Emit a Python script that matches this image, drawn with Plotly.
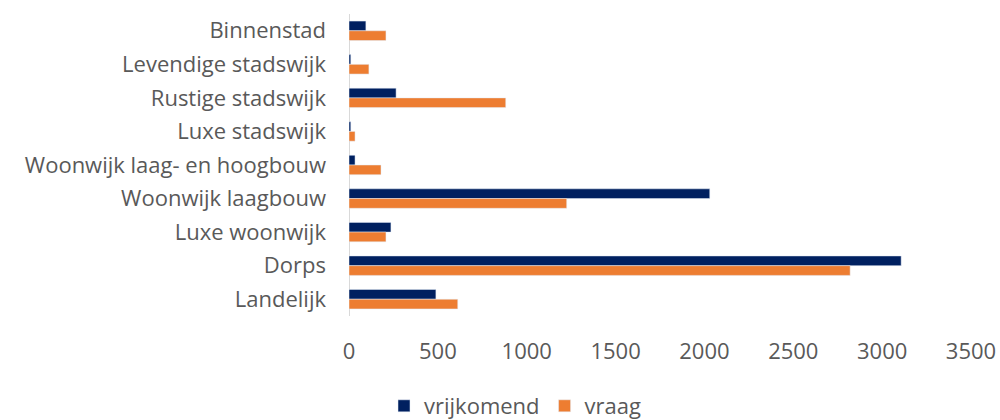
import plotly.graph_objects as go

categories = ["Binnenstad", "Levendige stadswijk", "Rustige stadswijk", "Luxe stadswijk",
              "Woonwijk laag- en hoogbouw", "Woonwijk laagbouw", "Luxe woonwijk", "Dorps", "Landelijk"]
vrijkomend = [95, 10, 265, 10, 34, 2030, 236, 3107, 489]
vraag = [208, 112, 882, 34, 180, 1225, 208, 2820, 612]
x_ticks = [0, 500, 1000, 1500, 2000, 2500, 3000, 3500]

font_family = "'Open Sans', sans-serif"
grey = "#595959"

fig = go.Figure()
fig.add_trace(go.Bar(y=categories, x=vrijkomend, name="vrijkomend", orientation="h",
                     marker=dict(color="#002060")))
fig.add_trace(go.Bar(y=categories, x=vraag, name="vraag", orientation="h",
                     marker=dict(color="#ED7D31")))

fig.update_layout(
    width=1000, height=420,
    margin=dict(l=349, r=29, t=14, b=104, autoexpand=False),
    paper_bgcolor="white", plot_bgcolor="white",
    barmode="group", bargap=0.42, bargroupgap=0,
    font=dict(family=font_family, color=grey, size=22),
    showlegend=True,
    legend=dict(orientation="h", xref="container", yref="container",
                x=0.515, xanchor="center", y=(420 - 406) / 420, yanchor="middle",
                font=dict(size=22, color=grey), itemwidth=30, traceorder="normal"),
    xaxis=dict(range=[0, 3500], tickvals=x_ticks, ticktext=[str(v) for v in x_ticks],
               showgrid=False, zeroline=False, showline=False, ticks="", automargin=False,
               ticklabelstandoff=20, tickfont=dict(size=22, color=grey)),
    yaxis=dict(autorange="reversed", showgrid=False, zeroline=False, automargin=False,
               showline=False, ticks="", ticklabelstandoff=22,
               tickfont=dict(size=22, color=grey)),
)
fig.add_shape(type="line", xref="x", yref="paper", x0=0, x1=0, y0=0, y1=1,
              line=dict(color="#D9D9D9", width=2), layer="below")

fig.write_html(
    "out.html",
    config={"displayModeBar": False},
    post_script="document.body.style.margin='0';document.body.style.overflow='hidden';",
)
